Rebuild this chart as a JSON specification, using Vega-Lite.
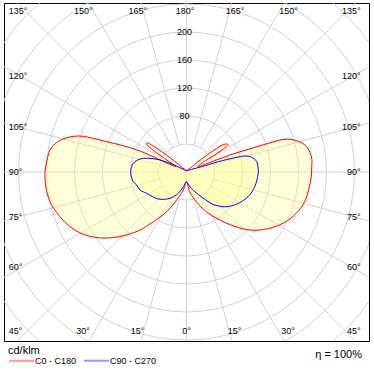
{
  "$schema": "https://vega.github.io/schema/vega-lite/v6.json",
  "width": 365,
  "height": 338,
  "autosize": "none",
  "padding": {"left": 4, "top": 3, "right": 5, "bottom": 31},
  "background": "white",
  "config": {
    "view": {"stroke": "#000000", "strokeWidth": 1},
    "font": "Liberation Sans"
  },
  "title": {"text": "η = 100%", "orient": "bottom", "anchor": "end", "fontSize": 11, "fontWeight": "normal", "color": "#000000", "offset": -17, "dx": -7, "font": "Liberation Sans"},
  "datasets": {
    "rings": [{"r": 40}, {"r": 80}, {"r": 120}, {"r": 160}, {"r": 200}, {"r": 240}, {"r": 280}, {"r": 320}, {"r": 360}],
    "ringlabels": [{"r": 80, "t": "80"}, {"r": 120, "t": "120"}, {"r": 160, "t": "160"}, {"r": 200, "t": "200"}],
    "spokes": [
      {"x1": 40, "y1": 0, "x2": 400, "y2": 0},
      {"x1": 38.64, "y1": 10.35, "x2": 386.4, "y2": 103.5},
      {"x1": 34.64, "y1": 20, "x2": 346.4, "y2": 200},
      {"x1": 28.28, "y1": 28.28, "x2": 282.8, "y2": 282.8},
      {"x1": 20, "y1": 34.64, "x2": 200, "y2": 346.4},
      {"x1": 10.35, "y1": 38.64, "x2": 103.5, "y2": 386.4},
      {"x1": 0, "y1": 40, "x2": 0, "y2": 400},
      {"x1": -10.35, "y1": 38.64, "x2": -103.5, "y2": 386.4},
      {"x1": -20, "y1": 34.64, "x2": -200, "y2": 346.4},
      {"x1": -28.28, "y1": 28.28, "x2": -282.8, "y2": 282.8},
      {"x1": -34.64, "y1": 20, "x2": -346.4, "y2": 200},
      {"x1": -38.64, "y1": 10.35, "x2": -386.4, "y2": 103.5},
      {"x1": -40, "y1": 0, "x2": -400, "y2": 0},
      {"x1": -38.64, "y1": -10.35, "x2": -386.4, "y2": -103.5},
      {"x1": -34.64, "y1": -20, "x2": -346.4, "y2": -200},
      {"x1": -28.28, "y1": -28.28, "x2": -282.8, "y2": -282.8},
      {"x1": -20, "y1": -34.64, "x2": -200, "y2": -346.4},
      {"x1": -10.35, "y1": -38.64, "x2": -103.5, "y2": -386.4},
      {"x1": 0, "y1": -40, "x2": 0, "y2": -400},
      {"x1": 10.35, "y1": -38.64, "x2": 103.5, "y2": -386.4},
      {"x1": 20, "y1": -34.64, "x2": 200, "y2": -346.4},
      {"x1": 28.28, "y1": -28.28, "x2": 282.8, "y2": -282.8},
      {"x1": 34.64, "y1": -20, "x2": 346.4, "y2": -200},
      {"x1": 38.64, "y1": -10.35, "x2": 386.4, "y2": -103.5}
    ],
    "anglelabels": [
      {"t": "150°", "x": -147.4, "y": 230, "pos": "c"},
      {"t": "165°", "x": -69.7, "y": 230, "pos": "c"},
      {"t": "180°", "x": -2, "y": 230, "pos": "c"},
      {"t": "165°", "x": 69.3, "y": 230, "pos": "c"},
      {"t": "150°", "x": 145.7, "y": 230, "pos": "c"},
      {"t": "30°", "x": -147.9, "y": -226.7, "pos": "c"},
      {"t": "15°", "x": -70, "y": -226.7, "pos": "c"},
      {"t": "0°", "x": 0, "y": -226.7, "pos": "c"},
      {"t": "15°", "x": 68.6, "y": -226.7, "pos": "c"},
      {"t": "30°", "x": 145, "y": -226.7, "pos": "c"},
      {"t": "135°", "x": -254, "y": 230, "pos": "l"},
      {"t": "120°", "x": -254, "y": 137.1, "pos": "l"},
      {"t": "105°", "x": -254, "y": 63.9, "pos": "l"},
      {"t": "90°", "x": -254, "y": 0, "pos": "l"},
      {"t": "75°", "x": -254, "y": -63.9, "pos": "l"},
      {"t": "60°", "x": -254, "y": -135.3, "pos": "l"},
      {"t": "45°", "x": -254, "y": -226.7, "pos": "l"},
      {"t": "135°", "x": 248.6, "y": 230, "pos": "r"},
      {"t": "120°", "x": 248.6, "y": 137.1, "pos": "r"},
      {"t": "105°", "x": 248.6, "y": 63.9, "pos": "r"},
      {"t": "90°", "x": 248.6, "y": 0, "pos": "r"},
      {"t": "75°", "x": 248.6, "y": -63.9, "pos": "r"},
      {"t": "60°", "x": 248.6, "y": -135.3, "pos": "r"},
      {"t": "45°", "x": 248.6, "y": -226.7, "pos": "r"}
    ],
    "curves": [
      {"s": "C0 - C180", "i": 1, "x": 0, "y": 1.4},
      {"s": "C0 - C180", "i": 2, "x": 1.03, "y": 2.82},
      {"s": "C0 - C180", "i": 3, "x": 3.86, "y": 4.6},
      {"s": "C0 - C180", "i": 4, "x": 14.86, "y": 13.38},
      {"s": "C0 - C180", "i": 5, "x": 34.97, "y": 28.32},
      {"s": "C0 - C180", "i": 6, "x": 50.31, "y": 37.91},
      {"s": "C0 - C180", "i": 7, "x": 57.34, "y": 40.15},
      {"s": "C0 - C180", "i": 8, "x": 59.2, "y": 39.19},
      {"s": "C0 - C180", "i": 9, "x": 52.58, "y": 32.86},
      {"s": "C0 - C180", "i": 10, "x": 36.0, "y": 21.63},
      {"s": "C0 - C180", "i": 11, "x": 22.52, "y": 13.0},
      {"s": "C0 - C180", "i": 12, "x": 16.04, "y": 8.17},
      {"s": "C0 - C180", "i": 13, "x": 18.27, "y": 8.13},
      {"s": "C0 - C180", "i": 14, "x": 26.43, "y": 11.0},
      {"s": "C0 - C180", "i": 15, "x": 45.43, "y": 18.14},
      {"s": "C0 - C180", "i": 16, "x": 69.29, "y": 26.71},
      {"s": "C0 - C180", "i": 17, "x": 93.14, "y": 33.86},
      {"s": "C0 - C180", "i": 18, "x": 116.86, "y": 41.0},
      {"s": "C0 - C180", "i": 19, "x": 140.71, "y": 46.71},
      {"s": "C0 - C180", "i": 20, "x": 157.43, "y": 44.71},
      {"s": "C0 - C180", "i": 21, "x": 171.71, "y": 36.14},
      {"s": "C0 - C180", "i": 22, "x": 178.86, "y": 19.57},
      {"s": "C0 - C180", "i": 23, "x": 178.9, "y": 8},
      {"s": "C0 - C180", "i": 24, "x": 178.3, "y": -6},
      {"s": "C0 - C180", "i": 25, "x": 175.0, "y": -23.29},
      {"s": "C0 - C180", "i": 26, "x": 168.86, "y": -42.43},
      {"s": "C0 - C180", "i": 27, "x": 156.86, "y": -59.0},
      {"s": "C0 - C180", "i": 28, "x": 137.86, "y": -73.29},
      {"s": "C0 - C180", "i": 29, "x": 114.0, "y": -81.43},
      {"s": "C0 - C180", "i": 30, "x": 90.29, "y": -82.86},
      {"s": "C0 - C180", "i": 31, "x": 66.43, "y": -76.71},
      {"s": "C0 - C180", "i": 32, "x": 47.43, "y": -68.57},
      {"s": "C0 - C180", "i": 33, "x": 28.29, "y": -56.71},
      {"s": "C0 - C180", "i": 34, "x": 14.0, "y": -42.43},
      {"s": "C0 - C180", "i": 35, "x": 4.57, "y": -28.14},
      {"s": "C0 - C180", "i": 36, "x": 0, "y": -13.9},
      {"s": "C0 - C180", "i": 37, "x": -4.57, "y": -25.71},
      {"s": "C0 - C180", "i": 38, "x": -14.0, "y": -40.0},
      {"s": "C0 - C180", "i": 39, "x": -28.29, "y": -56.71},
      {"s": "C0 - C180", "i": 40, "x": -47.43, "y": -71.0},
      {"s": "C0 - C180", "i": 41, "x": -66.43, "y": -82.86},
      {"s": "C0 - C180", "i": 42, "x": -85.43, "y": -90.0},
      {"s": "C0 - C180", "i": 43, "x": -106.86, "y": -93.86},
      {"s": "C0 - C180", "i": 44, "x": -126.0, "y": -93.86},
      {"s": "C0 - C180", "i": 45, "x": -147.43, "y": -89.0},
      {"s": "C0 - C180", "i": 46, "x": -166.43, "y": -78.14},
      {"s": "C0 - C180", "i": 47, "x": -180.71, "y": -63.86},
      {"s": "C0 - C180", "i": 48, "x": -192.57, "y": -47.14},
      {"s": "C0 - C180", "i": 49, "x": -199.71, "y": -28.14},
      {"s": "C0 - C180", "i": 50, "x": -202.14, "y": -9.0},
      {"s": "C0 - C180", "i": 51, "x": -202.0, "y": 2},
      {"s": "C0 - C180", "i": 52, "x": -199.7, "y": 14.7},
      {"s": "C0 - C180", "i": 53, "x": -195.0, "y": 31.4},
      {"s": "C0 - C180", "i": 54, "x": -185.4, "y": 42.4},
      {"s": "C0 - C180", "i": 55, "x": -171.1, "y": 49.0},
      {"s": "C0 - C180", "i": 56, "x": -152.1, "y": 51.4},
      {"s": "C0 - C180", "i": 57, "x": -133.1, "y": 48.1},
      {"s": "C0 - C180", "i": 58, "x": -114.0, "y": 43.29},
      {"s": "C0 - C180", "i": 59, "x": -90.29, "y": 37.57},
      {"s": "C0 - C180", "i": 60, "x": -66.43, "y": 30.0},
      {"s": "C0 - C180", "i": 61, "x": -42.57, "y": 19.57},
      {"s": "C0 - C180", "i": 62, "x": -25.5, "y": 11.6},
      {"s": "C0 - C180", "i": 63, "x": -15.15, "y": 7.72},
      {"s": "C0 - C180", "i": 64, "x": -20.78, "y": 12.0},
      {"s": "C0 - C180", "i": 65, "x": -35.62, "y": 22.26},
      {"s": "C0 - C180", "i": 66, "x": -50.04, "y": 33.12},
      {"s": "C0 - C180", "i": 67, "x": -57.34, "y": 40.15},
      {"s": "C0 - C180", "i": 68, "x": -56.28, "y": 41.65},
      {"s": "C0 - C180", "i": 69, "x": -47.28, "y": 36.96},
      {"s": "C0 - C180", "i": 70, "x": -30.64, "y": 25.72},
      {"s": "C0 - C180", "i": 71, "x": -14.62, "y": 13.64},
      {"s": "C0 - C180", "i": 72, "x": -3.86, "y": 4.6},
      {"s": "C0 - C180", "i": 73, "x": -1.03, "y": 2.82},
      {"s": "C0 - C180", "i": 74, "x": 0, "y": 1.4},
      {"s": "C90 - C270", "i": 1, "x": 0, "y": 1.4},
      {"s": "C90 - C270", "i": 2, "x": 7.43, "y": 3.86},
      {"s": "C90 - C270", "i": 3, "x": 21.71, "y": 7.57},
      {"s": "C90 - C270", "i": 4, "x": 45.43, "y": 14.71},
      {"s": "C90 - C270", "i": 5, "x": 69.29, "y": 20.43},
      {"s": "C90 - C270", "i": 6, "x": 83.57, "y": 22.86},
      {"s": "C90 - C270", "i": 7, "x": 93.14, "y": 21.0},
      {"s": "C90 - C270", "i": 8, "x": 100.29, "y": 14.71},
      {"s": "C90 - C270", "i": 9, "x": 102.57, "y": 0.43},
      {"s": "C90 - C270", "i": 10, "x": 102.14, "y": -4.29},
      {"s": "C90 - C270", "i": 11, "x": 97.43, "y": -21.0},
      {"s": "C90 - C270", "i": 12, "x": 87.86, "y": -35.29},
      {"s": "C90 - C270", "i": 13, "x": 71.14, "y": -46.14},
      {"s": "C90 - C270", "i": 14, "x": 54.57, "y": -49.57},
      {"s": "C90 - C270", "i": 15, "x": 37.86, "y": -46.14},
      {"s": "C90 - C270", "i": 16, "x": 21.14, "y": -35.29},
      {"s": "C90 - C270", "i": 17, "x": 6.86, "y": -23.29},
      {"s": "C90 - C270", "i": 18, "x": 0.71, "y": -14.71},
      {"s": "C90 - C270", "i": 19, "x": 0, "y": -13.86},
      {"s": "C90 - C270", "i": 20, "x": -4.57, "y": -21.0},
      {"s": "C90 - C270", "i": 21, "x": -11.71, "y": -30.43},
      {"s": "C90 - C270", "i": 22, "x": -23.57, "y": -37.57},
      {"s": "C90 - C270", "i": 23, "x": -40.29, "y": -38.57},
      {"s": "C90 - C270", "i": 24, "x": -56.86, "y": -30.43},
      {"s": "C90 - C270", "i": 25, "x": -66.43, "y": -25.71},
      {"s": "C90 - C270", "i": 26, "x": -71.14, "y": -18.57},
      {"s": "C90 - C270", "i": 27, "x": -76.0, "y": -13.86},
      {"s": "C90 - C270", "i": 28, "x": -79.71, "y": 0.43},
      {"s": "C90 - C270", "i": 29, "x": -76.0, "y": 12.43},
      {"s": "C90 - C270", "i": 30, "x": -66.43, "y": 18.57},
      {"s": "C90 - C270", "i": 31, "x": -52.14, "y": 19.57},
      {"s": "C90 - C270", "i": 32, "x": -37.86, "y": 17.14},
      {"s": "C90 - C270", "i": 33, "x": -23.57, "y": 12.43},
      {"s": "C90 - C270", "i": 34, "x": -9.29, "y": 6.14},
      {"s": "C90 - C270", "i": 35, "x": 0, "y": 1.4}
    ]
  },
  "layer": [
    {
      "data": {"name": "rings"},
      "mark": {"type": "point", "shape": "circle", "filled": false, "stroke": "#d0d0d0", "strokeWidth": 1, "opacity": 1, "clip": true},
      "encoding": {
        "x": {"datum": 0, "type": "quantitative", "scale": {"domain": [-260.71, 260.71], "nice": false, "zero": false}, "axis": null},
        "y": {"datum": 0, "type": "quantitative", "scale": {"domain": [-241.43, 241.43], "nice": false, "zero": false}, "axis": null},
        "size": {"field": "r", "type": "quantitative", "scale": {"type": "pow", "exponent": 2, "domain": [0, 400], "range": [0, 313600]}, "legend": null}
      }
    },
    {
      "data": {"name": "spokes"},
      "mark": {"type": "rule", "stroke": "#d0d0d0", "strokeWidth": 1, "clip": true},
      "encoding": {
        "x": {"field": "x1", "type": "quantitative", "scale": {"domain": [-260.71, 260.71], "nice": false, "zero": false}, "axis": null},
        "y": {"field": "y1", "type": "quantitative", "scale": {"domain": [-241.43, 241.43], "nice": false, "zero": false}, "axis": null},
        "x2": {"field": "x2"},
        "y2": {"field": "y2"}
      }
    },
    {
      "data": {"name": "curves"},
      "mark": {"type": "line", "interpolate": "catmull-rom", "fill": "#ffff80", "fillOpacity": 0.3, "strokeOpacity": 0, "clip": true},
      "encoding": {
        "x": {"field": "x", "type": "quantitative", "scale": {"domain": [-260.71, 260.71], "nice": false, "zero": false}, "axis": null},
        "y": {"field": "y", "type": "quantitative", "scale": {"domain": [-241.43, 241.43], "nice": false, "zero": false}, "axis": null},
        "detail": {"field": "s", "type": "nominal"},
        "order": {"field": "i", "type": "quantitative"}
      }
    },
    {
      "data": {"name": "curves"},
      "mark": {"type": "line", "interpolate": "catmull-rom", "strokeWidth": 1, "clip": true},
      "encoding": {
        "x": {"field": "x", "type": "quantitative", "scale": {"domain": [-260.71, 260.71], "nice": false, "zero": false}, "axis": null},
        "y": {"field": "y", "type": "quantitative", "scale": {"domain": [-241.43, 241.43], "nice": false, "zero": false}, "axis": null},
        "color": {
          "field": "s", "type": "nominal",
          "scale": {"domain": ["C0 - C180", "C90 - C270"], "range": ["#ff0000", "#0000ff"]},
          "legend": {
            "title": "cd/klm", "orient": "none", "legendX": 4, "legendY": 342, "direction": "horizontal",
            "symbolType": "stroke", "symbolSize": 625, "symbolStrokeWidth": 2, "symbolOpacity": 0.4,
            "labelFontSize": 9, "labelFont": "Liberation Sans", "labelColor": "#000000", "labelOffset": 0,
            "titleFontSize": 11, "titleFontWeight": "normal", "titleFont": "Liberation Sans", "titleColor": "#000000", "titlePadding": -9,
            "columnPadding": 3
          }
        },
        "order": {"field": "i", "type": "quantitative"}
      }
    },
    {
      "data": {"name": "ringlabels"},
      "mark": {"type": "text", "fontSize": 9, "font": "Liberation Sans", "color": "#000000", "baseline": "middle", "align": "center"},
      "encoding": {
        "x": {"datum": -3, "type": "quantitative", "scale": {"domain": [-260.71, 260.71], "nice": false, "zero": false}, "axis": null},
        "y": {"field": "r", "type": "quantitative", "scale": {"domain": [-241.43, 241.43], "nice": false, "zero": false}, "axis": null},
        "text": {"field": "t"}
      }
    },
    {
      "data": {"name": "anglelabels"},
      "transform": [{"filter": "datum.pos === 'c'"}],
      "mark": {"type": "text", "fontSize": 9, "font": "Liberation Sans", "color": "#000000", "baseline": "middle", "align": "center"},
      "encoding": {
        "x": {"field": "x", "type": "quantitative", "scale": {"domain": [-260.71, 260.71], "nice": false, "zero": false}, "axis": null},
        "y": {"field": "y", "type": "quantitative", "scale": {"domain": [-241.43, 241.43], "nice": false, "zero": false}, "axis": null},
        "text": {"field": "t"}
      }
    },
    {
      "data": {"name": "anglelabels"},
      "transform": [{"filter": "datum.pos === 'l'"}],
      "mark": {"type": "text", "fontSize": 9, "font": "Liberation Sans", "color": "#000000", "baseline": "middle", "align": "left"},
      "encoding": {
        "x": {"field": "x", "type": "quantitative", "scale": {"domain": [-260.71, 260.71], "nice": false, "zero": false}, "axis": null},
        "y": {"field": "y", "type": "quantitative", "scale": {"domain": [-241.43, 241.43], "nice": false, "zero": false}, "axis": null},
        "text": {"field": "t"}
      }
    },
    {
      "data": {"name": "anglelabels"},
      "transform": [{"filter": "datum.pos === 'r'"}],
      "mark": {"type": "text", "fontSize": 9, "font": "Liberation Sans", "color": "#000000", "baseline": "middle", "align": "right"},
      "encoding": {
        "x": {"field": "x", "type": "quantitative", "scale": {"domain": [-260.71, 260.71], "nice": false, "zero": false}, "axis": null},
        "y": {"field": "y", "type": "quantitative", "scale": {"domain": [-241.43, 241.43], "nice": false, "zero": false}, "axis": null},
        "text": {"field": "t"}
      }
    }
  ]
}
